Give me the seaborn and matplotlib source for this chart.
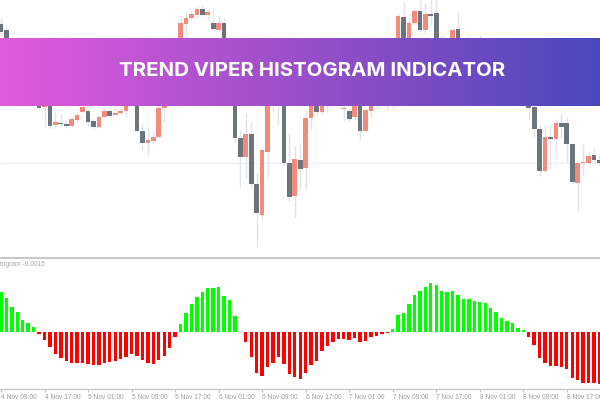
import numpy as np
import pandas as pd
import matplotlib
matplotlib.use("Agg")
import matplotlib.pyplot as plt
import seaborn as sns
from matplotlib.colors import LinearSegmentedColormap

TITLE = "TREND VIPER HISTOGRAM INDICATOR"
INDICATOR_LABEL = "togram -0.0015"

# prices (anything behind the banner is a guess)
open_px = [226, 220, 205, 190, 198, 205, 178, 178, 143, 170, 125, 127.3, 126, 124.3, 130, 138,
           139.3, 129, 123, 132.7, 139, 135.3, 136.7, 138.7, 165, 165, 119.3, 107.3, 109.3, 113.3,
           141.7, 160, 175, 195, 226, 232.3, 235, 241, 235, 226.7, 220, 227.3, 190, 175, 111.7, 93.3,
           116, 66, 35, 98.3, 165, 190, 190, 86.7, 54, 90, 81.7, 131.7, 155, 138.3, 165, 160,
           180, 140.7, 139, 132.7, 170, 119.3, 139, 165, 185, 175, 190, 200, 233.3, 195,
           226.7, 239.3, 220, 235.7, 236.7, 200, 195, 200, 221, 200, 190, 195, 180, 190, 180,
           170, 180, 170, 160, 170, 160, 150, 142.7, 121, 78.7, 112.7, 110.7, 126.7, 126.7, 105.7,
           67.3, 86.7, 87.3, 94.7, 90]
close_px = [218, 205, 190, 200, 205, 180, 185, 142, 170, 124.3, 128, 126, 124.3, 131, 135, 143,
            128.3, 123, 133.3, 139, 134.3, 136.7, 139, 150, 150, 119.3, 107.3, 110, 113.3, 141.7,
            160, 175, 195, 226.7, 231.7, 236, 241, 235, 237.7, 221, 227.3, 190, 175, 111.7, 92.7, 116,
            66, 36.7, 100, 170, 180, 170, 86.7, 52.7, 90.7, 80.7, 131.7, 155, 138.3, 160, 155, 175,
            165, 141.3, 131, 170, 119.3, 140, 170, 180, 170, 195, 205, 234, 195, 226.7,
            239.3, 220, 235.7, 234.3, 195, 190, 205, 220, 195, 190, 200, 180, 195, 175, 170,
            180, 165, 170, 170, 155, 150, 142, 121, 79, 112.7, 110.7, 126.7, 122.7, 105.7, 67.7,
            86.7, 87.7, 94, 90, 87.3]
high_px = [232, 225, 210, 205, 210, 210, 190, 182, 175, 175, 138, 136, 130, 133, 138, 146,
           142, 132, 135, 142, 142, 143, 144, 155, 170, 170, 127.3, 123.3, 118.3, 150,
           165, 180, 200, 235, 238.3, 240, 244, 245, 241.7, 241.7, 235, 232, 195, 180, 120, 137,
           128.3, 77, 103.3, 175, 185, 195, 195, 117, 105, 107, 140, 160, 160, 165, 170, 180,
           185, 150, 141, 175, 175, 141.7, 175, 185, 190, 200, 210, 237, 248.3, 232,
           242, 250, 246.7, 250, 250, 215, 210, 223.3, 238.3, 213.3, 215, 205, 215, 195, 185,
           185, 185, 175, 175, 175, 165, 155, 147, 125, 125, 123, 131, 136, 133.3, 106,
           88.3, 105.7, 97, 103.3, 95]
low_px = [215, 200, 185, 185, 192, 175, 172, 140, 123, 122, 122, 123, 122, 123, 128, 137,
          125, 121, 122, 132, 133, 135, 135, 133, 147, 118, 100, 95, 106, 112,
          128.3, 155, 170, 190, 213, 231.5, 233.5, 233.5, 230, 220, 218.3, 185, 170, 108, 63.3, 72,
          63.3, 3, 30, 73.3, 138.3, 125, 85, 49, 32, 61, 60.7, 120, 135, 135, 138.3, 150,
          150, 129.3, 128.3, 130, 110, 118.3, 133.3, 142.7, 150, 140, 141, 195, 190, 190,
          225, 218.3, 216.7, 225, 190, 185, 190, 195, 190, 185, 185, 175, 175, 170, 165,
          165, 160, 155, 155, 150, 146, 130, 112.7, 74.3, 78.3, 81.7, 90.7, 111.7, 86.7, 67.3,
          38.3, 75, 85, 88.3, 85]
level_px = 87.5

# indicator values in units of 1e-5
hist_vals = [120, 102, 75, 58, 35, 25, 15, -8, -25, -47, -66, -79, -88, -95, -95, -93, -96, -101,
             -99, -93, -90, -87, -82, -75, -67, -73, -85, -93, -97, -85, -72, -50, -17, 23, 57, 83,
             105, 119, 130, 131, 134, 106, 95, 46, -2, -32, -75, -123, -132, -105, -94, -75, -96,
             -128, -135, -142, -124, -101, -87, -57, -44, -30, -22, -22, -26, -20, -30, -27, -16,
             -12, -8, -3, 9, 49, 57, 84, 111, 121, 135, 145, 139, 121, 119, 121, 109, 98, 98, 92,
             89, 85, 72, 59, 41, 32, 25, 11, 5, -16, -40, -79, -94, -103, -103, -105, -113, -138,
             -146, -153, -153, -154, -156]

tick_every = 8
tick_labels = ["4 Nov 09:00", "4 Nov 17:00", "5 Nov 01:00", "5 Nov 09:00", "5 Nov 17:00",
               "6 Nov 01:00", "6 Nov 09:00", "6 Nov 17:00", "7 Nov 01:00", "7 Nov 09:00",
               "7 Nov 17:00", "8 Nov 01:00", "8 Nov 09:00", "8 Nov 17:00"]

sns.set_theme(style="white")

candles = pd.DataFrame({"open": open_px, "close": close_px, "high": high_px, "low": low_px})
candles["bar"] = np.arange(len(candles))
candles["up"] = candles["close"] >= candles["open"]

hist = pd.DataFrame({"bar": np.arange(len(hist_vals)), "value": np.array(hist_vals) / 1e5})
hist["dir"] = np.where(hist["value"] >= 0, "up", "down")

fig = plt.figure(figsize=(6, 4), dpi=100, facecolor="white")

# price pane
ax = fig.add_axes([0, 144 / 400, 1, 256 / 400])
ax.axhline(level_px, color="#eeeef5", lw=1, zorder=1)
ax.vlines(candles["bar"], candles["low"], candles["high"], color="#e2e4ea", lw=1, zorder=2)
ax.bar(candles["bar"], (candles["close"] - candles["open"]).abs().clip(lower=1),
       bottom=candles[["open", "close"]].min(axis=1), width=0.86, linewidth=0,
       color=np.where(candles["up"], "#f28b7b", "#6d747b"), zorder=3)
ax.set_xlim(-0.18, 110.1)
ax.set_ylim(-6, 250)
ax.axis("off")

# indicator pane
ax2 = fig.add_axes([0, 11 / 400, 1, 131 / 400])
sns.barplot(data=hist, x="bar", y="value", hue="dir", palette={"up": "#00ff00", "down": "#ff0000"},
            native_scale=True, dodge=False, width=0.62, legend=False, saturation=1, linewidth=0, ax=ax2)
ax2.set_xlim(-0.18, 110.1)
ax2.set_ylim(-172e-5, 221e-5)
ax2.set_xlabel("")
ax2.set_ylabel("")
ax2.set_yticks([])
ax2.set_xticks(np.arange(len(tick_labels)) * tick_every)
ax2.set_xticklabels(tick_labels, ha="left", family="Liberation Sans", fontsize=4.8, color="#9c9c9c")
ax2.tick_params(axis="x", bottom=True, length=2, width=0.8, color="#c4c4c4", pad=1.5)
for side in ["left", "right"]:
    ax2.spines[side].set_visible(False)
for side in ["top", "bottom"]:
    ax2.spines[side].set_color("#c8c8c8")
ax2.spines["top"].set_linewidth(1.5)
ax2.spines["bottom"].set_linewidth(1)
fig.text(0.5 / 600, 1 - 264.7 / 400, INDICATOR_LABEL, ha="left", va="center",
         family="Liberation Sans", fontsize=4.8, color="#a8a8a8")

# title banner
banner = fig.add_axes([0, 294 / 400, 1, 68 / 400], zorder=5)
cmap = LinearSegmentedColormap.from_list("banner", ["#e05adc", "#9a4fc9", "#4a48bd"])
banner.imshow(np.linspace(0, 1, 600).reshape(1, -1), cmap=cmap, aspect="auto")
banner.axis("off")
fig.text(312.5 / 600, 1 - 71.5 / 400, TITLE, ha="center", va="center", color="white",
         family="Inter", fontweight="bold", fontsize=14.7, zorder=6)

fig.savefig("out.png", dpi=100)
